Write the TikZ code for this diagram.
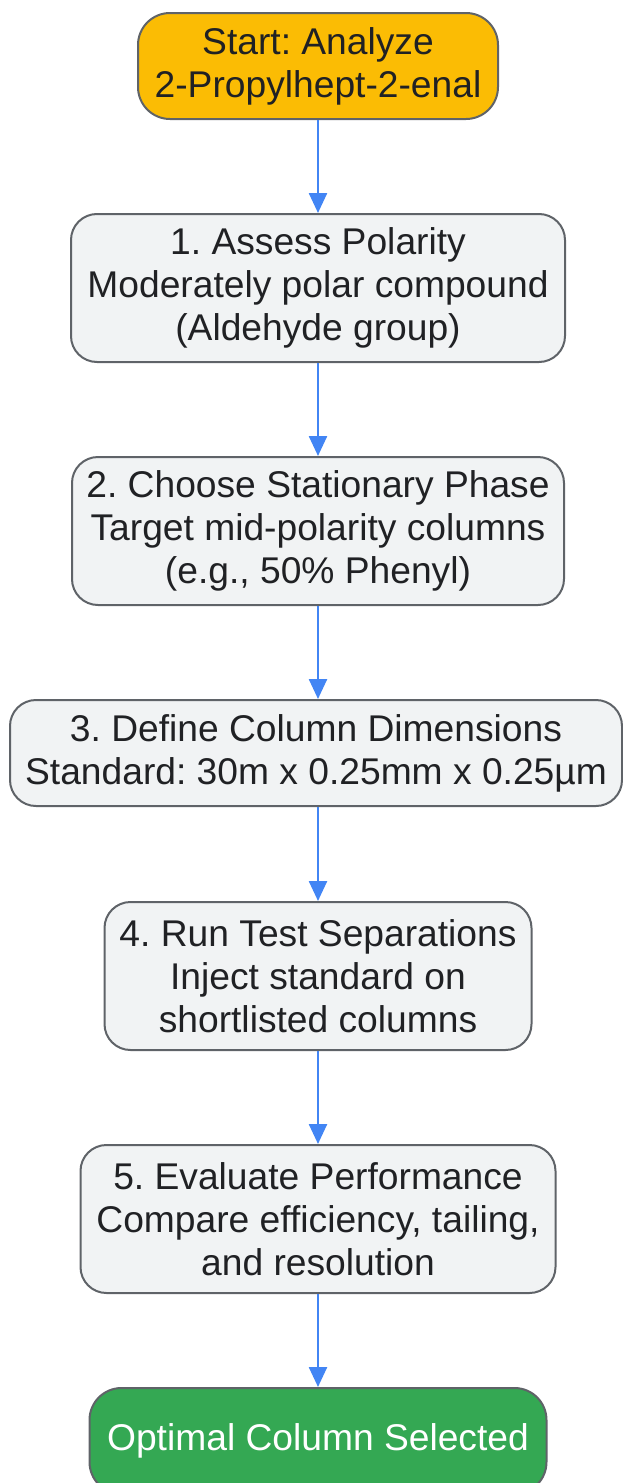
\documentclass[tikz,border=0pt]{standalone}
\usepackage{fontspec}
\setmainfont{Liberation Sans}
\usetikzlibrary{arrows.meta}

\definecolor{startfill}{HTML}{FBBC04}
\definecolor{endfill}{HTML}{34A853}
\definecolor{stepfill}{HTML}{F1F3F4}
\definecolor{edgegrey}{HTML}{5F6368}
\definecolor{flowblue}{HTML}{4285F4}
\definecolor{inkgrey}{HTML}{202124}

\tikzset{
	box/.style={draw=edgegrey, line width=2pt, rounded corners=26pt, align=center,
		inner xsep=6pt, text=inkgrey,
		font=\fontsize{37.2}{43}\selectfont\frenchspacing},
	stepbox/.style={box, fill=stepfill, minimum height=148pt},
	startbox/.style={box, fill=startfill, minimum height=106pt, rounded corners=32pt},
	endbox/.style={box, fill=endfill, text=white, minimum height=106pt, rounded corners=32pt},
	flow/.style={-{Triangle[length=20pt, width=18pt]}, flowblue, line width=2.5pt}
}

\begin{document}
\begin{tikzpicture}[x=1pt, y=1pt]
		\useasboundingbox (0, 0) rectangle (623, -1483);

		\node[startbox, minimum width=360pt] (start)	at (318, -66)	{Start: Analyze\\2-Propylhept-2-enal};
		\node[stepbox, minimum width=494pt] (polar)	at (318, -288)	{1. Assess Polarity\\Moderately polar compound\\(Aldehyde group)};
		\node[stepbox, minimum width=492pt] (phase)	at (318, -531)	{2. Choose Stationary Phase\\Target mid-polarity columns\\(e.g., 50\% Phenyl)};
		\node[stepbox, minimum width=612pt, minimum height=106pt] (dims)	at (316, -753)	{3. Define Column Dimensions\\Standard: 30m x 0.25mm x 0.25µm};
		\node[stepbox, minimum width=427pt] (test)	at (318, -976)	{4. Run Test Separations\\Inject standard on\\shortlisted columns};
		\node[stepbox, minimum width=475pt] (eval)	at (318, -1219)	{5. Evaluate Performance\\Compare efficiency, tailing,\\and resolution};
		\node[endbox, minimum width=457pt] (done)	at (318, -1441)	{Optimal Column Selected};

		\draw[flow] (start) -- (polar);
		\draw[flow] (polar) -- (phase);
		\draw[flow] (phase) -- (dims.north -| phase.south);
		\draw[flow] (dims.south -| test.north) -- (test);
		\draw[flow] (test) -- (eval);
		\draw[flow] (eval) -- (done);
	\end{tikzpicture}
\end{document}
